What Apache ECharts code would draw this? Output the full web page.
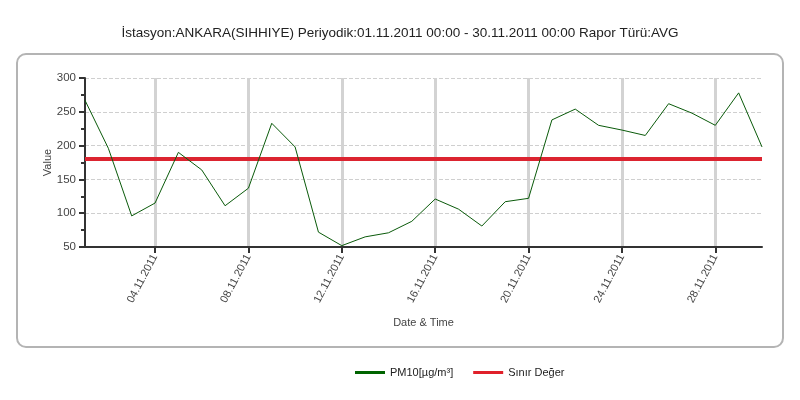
<!DOCTYPE html>
<html>
<head>
<meta charset="utf-8">
<script src="https://cdn.jsdelivr.net/npm/echarts@6/dist/echarts.min.js"></script>
<style>
  html, body { margin: 0; padding: 0; background: #fff; }
  #chart { width: 800px; height: 400px; }
</style>
</head>
<body>
<div id="chart"></div>
<script>
// günler 01.11.2011 - 30.11.2011
var days = [];
for (var d = 1; d <= 30; d++) {
  days.push((d < 10 ? "0" + d : "" + d) + ".11.2011");
}
var pm10 = [267, 196, 96, 115, 190, 164, 111, 137, 233, 198,
            72, 52, 65, 71, 88, 121, 106, 81, 117, 122,
            238, 254, 230, 223, 215, 262, 248, 230, 278, 198];
var limitValue = 180;
var limitLine = days.map(function () { return limitValue; });

var chart = echarts.init(document.getElementById("chart"));
var showTick = function (i) { return i % 4 === 3; };

var option = {
  animation: false,
  textStyle: { fontFamily: "Liberation Sans" },
  title: {
    text: "İstasyon:ANKARA(SIHHIYE) Periyodik:01.11.2011 00:00 - 30.11.2011 00:00 Rapor Türü:AVG",
    left: "center",
    top: 21,
    textStyle: { fontSize: 13.5, fontWeight: "normal", color: "#222", fontFamily: "Liberation Sans" }
  },
  graphic: [{
    type: "rect",
    shape: { x: 17, y: 54, width: 766, height: 293, r: 9 },
    style: { fill: "none", stroke: "#b4b4b4", lineWidth: 2 },
    z: -1
  }],
  legend: {
    top: 362,
    left: 350,
    itemWidth: 30,
    itemHeight: 3,
    itemGap: 20,
    icon: "rect",
    textStyle: { fontSize: 11, color: "#222", fontFamily: "Liberation Sans" },
    data: ["PM10[µg/m³]", "Sınır Değer"]
  },
  grid: { left: 85, right: 38, top: 78, bottom: 153 },
  xAxis: {
    type: "category",
    data: days,
    boundaryGap: false,
    name: "Date & Time",
    nameLocation: "middle",
    nameGap: 70,
    nameTextStyle: { fontSize: 11, color: "#444" },
    axisLine: { lineStyle: { color: "#333", width: 2 } },
    axisTick: { show: true, interval: showTick, length: 6, lineStyle: { color: "#333", width: 2 } },
    axisLabel: { interval: showTick, rotate: 62, fontSize: 11, color: "#444", margin: 8 },
    splitLine: { show: true, interval: showTick, lineStyle: { color: "#d3d3d3", width: 3 } }
  },
  yAxis: {
    type: "value",
    min: 50,
    max: 300,
    interval: 50,
    name: "Value",
    nameLocation: "middle",
    nameGap: 32,
    nameMoveOverlap: false,
    nameTextStyle: { fontSize: 11, color: "#444" },
    axisLine: { show: true, lineStyle: { color: "#333", width: 2 } },
    axisTick: { show: true, length: 6, lineStyle: { color: "#333", width: 2 } },
    minorTick: { show: true, splitNumber: 2, length: 4, lineStyle: { color: "#333", width: 2 } },
    axisLabel: { fontSize: 11.5, color: "#444", margin: 9 },
    splitLine: { show: true, lineStyle: { color: "#cfcfcf", type: "dashed", width: 1 } }
  },
  series: [
    {
      name: "PM10[µg/m³]",
      type: "line",
      data: pm10,
      symbol: "none",
      itemStyle: { color: "#006400" },
      lineStyle: { color: "#0a5a0a", width: 1 },
      z: 3
    },
    {
      name: "Sınır Değer",
      type: "line",
      data: limitLine,
      symbol: "none",
      itemStyle: { color: "#e0202a" },
      lineStyle: { color: "#dc2430", width: 4 },
      z: 2
    }
  ]
};

chart.setOption(option);
</script>
</body>
</html>
